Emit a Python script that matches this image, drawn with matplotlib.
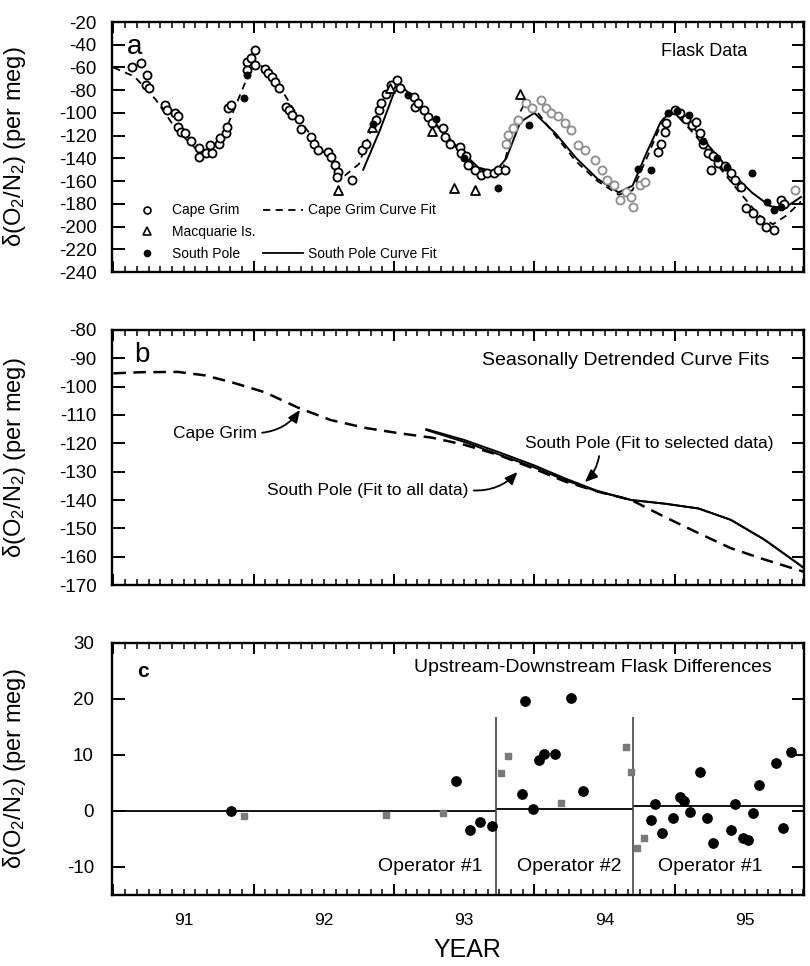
import numpy as np
import matplotlib.pyplot as plt
from matplotlib.lines import Line2D
from matplotlib.ticker import MultipleLocator, FuncFormatter

plt.rcParams['font.family'] = ['Liberation Sans', 'DejaVu Sans']
plt.rcParams['mathtext.fontset'] = 'custom'
plt.rcParams['mathtext.rm'] = 'Liberation Sans'
plt.rcParams['mathtext.it'] = 'Liberation Sans:italic'
plt.rcParams['mathtext.default'] = 'regular'
plt.rcParams['axes.unicode_minus'] = False

XMIN, XMAX = 1990.99, 1995.92

# ---- panel a: flask data (decimal year, per meg)
cg_t = [1991.13, 1991.20, 1991.24, 1991.23, 1991.25, 1991.37, 1991.38, 1991.44, 1991.46, 1991.46,
        1991.48, 1991.51, 1991.55, 1991.61, 1991.61, 1991.66, 1991.70, 1991.69, 1991.75, 1991.76,
        1991.80, 1991.81, 1991.82, 1991.84, 1991.95, 1991.98, 1992.01, 1991.95, 1992.01, 1992.08,
        1992.10, 1992.13, 1992.15, 1992.18, 1992.23, 1992.25, 1992.27, 1992.32, 1992.34, 1992.41,
        1992.43, 1992.46, 1992.53, 1992.55, 1992.58, 1992.60, 1992.59, 1992.70, 1992.77, 1992.80,
        1992.87, 1992.89, 1992.91, 1992.94, 1992.98, 1993.02, 1993.04, 1993.14, 1993.15, 1993.17,
        1993.21, 1993.24, 1993.27, 1993.35, 1993.36, 1993.40, 1993.47, 1993.48, 1993.51, 1993.53,
        1993.58, 1993.62, 1993.66, 1993.71, 1993.74, 1993.79,
        1994.88, 1994.90, 1994.93, 1994.94, 1995.00, 1995.04, 1995.08, 1995.12, 1995.15, 1995.18,
        1995.20, 1995.24, 1995.27, 1995.26, 1995.31, 1995.36, 1995.40, 1995.43, 1995.47, 1995.51,
        1995.56, 1995.61, 1995.65, 1995.71, 1995.76, 1995.78]
cg_v = [-60, -56, -67, -75, -78, -93, -97, -100, -103, -112,
        -117, -118, -125, -131, -139, -135, -135, -128, -127, -122,
        -118, -112, -96, -93, -55, -52, -45, -62, -58, -61,
        -65, -68, -73, -78, -95, -97, -102, -105, -114, -121,
        -127, -133, -134, -139, -146, -152, -156, -159, -133, -127,
        -106, -97, -91, -83, -75, -71, -78, -86, -95, -91,
        -97, -104, -109, -113, -121, -127, -130, -135, -138, -146,
        -150, -155, -153, -153, -150, -150,
        -134, -127, -117, -109, -97, -100, -105, -111, -108, -118,
        -127, -135, -138, -150, -144, -147, -153, -159, -165, -184,
        -188, -194, -200, -203, -177, -180]

# faint (grey) Cape Grim points, late 1993 to late 1994
cgg_t = [1993.80, 1993.81, 1993.85, 1993.88, 1993.94, 1993.98, 1994.05, 1994.08, 1994.12, 1994.17,
         1994.22, 1994.26, 1994.31, 1994.36, 1994.43, 1994.48, 1994.52, 1994.57, 1994.61, 1994.65,
         1994.69, 1994.70, 1994.75, 1994.79, 1995.86]
cgg_v = [-127, -119, -113, -106, -91, -96, -89, -96, -100, -103,
         -109, -115, -128, -133, -141, -150, -159, -163, -177, -170,
         -174, -183, -163, -161, -168]

mq_t = [1992.60, 1992.84, 1992.97, 1993.27, 1993.43, 1993.58, 1993.90]
mq_v = [-168, -112, -78, -116, -166, -168, -83]

sp_t = [1991.93, 1991.95, 1992.85, 1993.10, 1993.30, 1993.50, 1993.74, 1993.96, 1994.74, 1994.83,
        1994.95, 1995.02, 1995.10, 1995.20, 1995.30, 1995.37, 1995.55, 1995.66, 1995.71, 1995.76]
sp_v = [-87, -67, -110, -84, -105, -140, -166, -111, -149, -150,
        -100, -98, -102, -125, -140, -148, -153, -178, -185, -183]

cgfit_t = [1991.00, 1991.15, 1991.30, 1991.45, 1991.60, 1991.70, 1991.80, 1991.90, 1992.00, 1992.10,
           1992.20, 1992.35, 1992.50, 1992.65, 1992.75, 1992.85, 1992.95, 1993.02, 1993.10, 1993.25,
           1993.40, 1993.55, 1993.70, 1993.78, 1993.85, 1993.93, 1994.00, 1994.15, 1994.30, 1994.45,
           1994.60, 1994.70, 1994.80, 1994.92, 1995.00, 1995.15, 1995.30, 1995.45, 1995.60, 1995.70,
           1995.80, 1995.90]
cgfit_v = [-60, -68, -88, -115, -133, -132, -115, -85, -55, -62,
           -80, -110, -135, -155, -145, -110, -80, -74, -82, -104,
           -125, -145, -155, -148, -110, -92, -96, -120, -143, -160,
           -172, -168, -140, -105, -100, -120, -145, -168, -190, -198,
           -190, -178]

spfit_t = [1992.78, 1992.90, 1993.00, 1993.05, 1993.15, 1993.30, 1993.45, 1993.60, 1993.72, 1993.80,
           1993.90, 1994.00, 1994.15, 1994.30, 1994.45, 1994.60, 1994.70, 1994.80, 1994.90, 1994.98,
           1995.10, 1995.25, 1995.40, 1995.55, 1995.68, 1995.78, 1995.90]
spfit_v = [-150, -115, -82, -76, -88, -110, -130, -148, -152, -140,
           -108, -100, -118, -140, -158, -170, -164, -135, -108, -98,
           -108, -130, -152, -170, -182, -184, -174]

# ---- panel b: seasonally detrended fits
cgdt_t = [1991.00, 1991.20, 1991.46, 1991.65, 1991.84, 1992.08, 1992.32, 1992.55, 1992.80, 1993.03,
          1993.27, 1993.50, 1993.74, 1994.00, 1994.22, 1994.45, 1994.69, 1994.93, 1995.17, 1995.40,
          1995.64, 1995.88, 1995.92]
cgdt_v = [-95.3, -94.9, -94.8, -96.0, -98.4, -102.0, -107.5, -111.8, -114.6, -116.4,
          -118.0, -120.5, -124.0, -129.0, -133.5, -137.0, -140.0, -146.0, -151.7, -157.0,
          -161.0, -164.7, -165.3]

spall_t = [1993.23, 1993.50, 1993.74, 1994.00, 1994.22, 1994.45, 1994.69, 1994.93, 1995.17, 1995.40,
           1995.64, 1995.88, 1995.92]
spall_v = [-115.3, -119.5, -123.8, -128.5, -133.0, -137.0, -140.0, -141.3, -143.0, -147.0,
           -154.0, -162.5, -164.0]
spsel_v = [-115.0, -118.8, -123.0, -127.8, -132.4, -136.8, -140.0, -141.3, -143.0, -147.0,
           -154.0, -162.5, -164.0]

# ---- panel c: upstream-downstream differences
dot_t = [1991.84, 1993.44, 1993.54, 1993.61, 1993.70, 1993.93, 1993.91, 1993.99, 1994.03, 1994.07,
         1994.15, 1994.26, 1994.35, 1994.83, 1994.86, 1994.91, 1994.99, 1995.04, 1995.07, 1995.11,
         1995.18, 1995.23, 1995.27, 1995.40, 1995.43, 1995.49, 1995.52, 1995.56, 1995.60, 1995.72,
         1995.77, 1995.83]
dot_v = [0.0, 5.4, -3.4, -1.9, -2.7, 19.7, 3.0, 0.4, 9.1, 10.2,
         10.2, 20.2, 3.6, -1.6, 1.3, -3.9, -1.3, 2.5, 1.8, -0.2,
         7.0, -1.3, -5.7, -3.4, 1.3, -4.8, -5.2, -0.4, 4.6, 8.6,
         -3.0, 10.5]
sq_t = [1991.93, 1992.94, 1993.35, 1993.76, 1993.81, 1994.19, 1994.65, 1994.69, 1994.73, 1994.78]
sq_v = [-0.9, -0.7, -0.4, 6.8, 9.8, 1.4, 11.5, 7.0, -6.6, -4.8]

op_bounds = [1993.73, 1994.70]
seg_start = [XMIN, 1993.73, 1994.70]
seg_end = [1993.73, 1994.70, XMAX]
seg_level = [0.0, 0.3, 0.9]
op_names = ['Operator #1', 'Operator #2', 'Operator #1']
op_x = [1993.26, 1994.25, 1995.25]

fig = plt.figure(figsize=(8.1, 9.66), dpi=100)
ax_a = fig.add_axes([0.1383, 0.7184, 0.854, 0.2588])
ax_b = fig.add_axes([0.1383, 0.3944, 0.854, 0.2640])
ax_c = fig.add_axes([0.1383, 0.0735, 0.854, 0.2609])


def style(ax, ylim, ystep, ypad):
    ax.set_xlim(XMIN, XMAX)
    ax.set_ylim(*ylim)
    ax.xaxis.set_major_locator(MultipleLocator(1))
    ax.xaxis.set_minor_locator(MultipleLocator(1 / 12))
    ax.yaxis.set_major_locator(MultipleLocator(ystep))
    ax.tick_params(axis='x', which='major', direction='in', top=True, bottom=True,
                   length=8, width=1.4, labelbottom=False)
    ax.tick_params(axis='x', which='minor', direction='in', top=True, bottom=True,
                   length=4, width=1.1, labelbottom=False)
    ax.tick_params(axis='y', which='major', direction='in', left=True, right=True,
                   length=9, width=1.4, labelsize=13.5, pad=ypad)
    for s in ax.spines.values():
        s.set_linewidth(1.7)
    ax.set_ylabel('δ(O$_2$/N$_2$) (per meg)', fontsize=17)
    ax.yaxis.set_label_coords(-0.122, 0.5)


# panel a
style(ax_a, (-240, -20), 20, 11)
ax_a.plot(cgfit_t, cgfit_v, color='black', lw=1.3, ls=(0, (4, 3)))
ax_a.plot(spfit_t, spfit_v, color='black', lw=1.4)
ax_a.scatter(cgg_t, cgg_v, s=34, facecolors='white', edgecolors='#8c8c8c', linewidths=1.3, zorder=3)
ax_a.scatter(cg_t, cg_v, s=34, facecolors='white', edgecolors='black', linewidths=1.3, zorder=3)
ax_a.scatter(mq_t, mq_v, s=42, marker='^', facecolors='white', edgecolors='black', linewidths=1.3, zorder=3)
ax_a.scatter(sp_t, sp_v, s=22, color='black', zorder=4)
ax_a.text(0.033, 0.9, 'a', transform=ax_a.transAxes, fontsize=20, ha='center', va='center')
ax_a.text(0.919, 0.884, 'Flask Data', transform=ax_a.transAxes, fontsize=13, ha='right', va='center')

h_cg = Line2D([], [], ls='none', marker='o', ms=5, mfc='white', mec='black', mew=1.2)
h_mq = Line2D([], [], ls='none', marker='^', ms=6, mfc='white', mec='black', mew=1.2)
h_sp = Line2D([], [], ls='none', marker='o', ms=4.5, color='black')
h_cgf = Line2D([], [], color='black', lw=1.3, ls=(0, (4, 3)))
h_blank = Line2D([], [], ls='none')
h_spf = Line2D([], [], color='black', lw=1.3)
ax_a.legend([h_cg, h_mq, h_sp, h_cgf, h_blank, h_spf],
            ['Cape Grim', 'Macquarie Is.', 'South Pole', 'Cape Grim Curve Fit', '', 'South Pole Curve Fit'],
            ncol=2, loc='lower left', bbox_to_anchor=(0.022, 0.045), frameon=False, fontsize=10,
            handlelength=2.9, handletextpad=0.35, columnspacing=0.5, labelspacing=0.55,
            borderpad=0, borderaxespad=0)

# panel b
style(ax_b, (-170, -80), 10, 11)
ax_b.plot(cgdt_t, cgdt_v, color='black', lw=1.8, ls=(0, (5, 3)))
ax_b.plot(spall_t, spall_v, color='black', lw=1.4)
ax_b.plot(spall_t, spsel_v, color='black', lw=1.4)
ax_b.text(0.043, 0.902, 'b', transform=ax_b.transAxes, fontsize=20, ha='center', va='center')
ax_b.text(0.951, 0.882, 'Seasonally Detrended Curve Fits', transform=ax_b.transAxes,
          fontsize=14, ha='right', va='center')
arrow = dict(arrowstyle='-|>,head_length=0.6,head_width=0.25', color='black', lw=1.3,
             shrinkA=2, shrinkB=0)
ax_b.annotate('Cape Grim', xy=(1992.33, -108.2), xytext=(1992.02, -116.4), fontsize=12.5,
              ha='right', va='center',
              arrowprops=dict(arrow, relpos=(1, 0.5), connectionstyle='arc3,rad=0.25'))
ax_b.annotate('South Pole (Fit to all data)', xy=(1993.88, -130.1), xytext=(1992.81, -136.5),
              fontsize=12.5, ha='center', va='center',
              arrowprops=dict(arrow, relpos=(1, 0.5), connectionstyle='arc3,rad=0.25'))
ax_b.annotate('South Pole (Fit to selected data)', xy=(1994.36, -133.7), xytext=(1994.82, -119.9),
              fontsize=12.5, ha='center', va='center',
              arrowprops=dict(arrow, relpos=(0.3, 0), connectionstyle='arc3,rad=-0.2'))

# panel c
style(ax_c, (-15, 30), 10, 13)
ax_c.hlines(seg_level, seg_start, seg_end, color='black', lw=1.3)
ax_c.vlines(op_bounds, -15, 16.7, color='#444444', lw=1.2)
ax_c.scatter(sq_t, sq_v, s=22, marker='s', color='#7a7a7a', zorder=3)
ax_c.scatter(dot_t, dot_v, s=45, color='black', zorder=4)
for name, xx in zip(op_names, op_x):
    ax_c.text(xx, -10, name, fontsize=14, ha='center', va='center')
ax_c.text(0.045, 0.885, 'c', transform=ax_c.transAxes, fontsize=15, fontweight='bold',
          ha='center', va='center')
ax_c.text(0.954, 0.901, 'Upstream-Downstream Flask Differences', transform=ax_c.transAxes,
          fontsize=14, ha='right', va='center')


def year_label(x, pos):
    frac = x - np.floor(x)
    if abs(frac - 0.5) < 1e-3:
        return '%d' % (int(np.floor(x)) % 100)
    return ''


ax_c.xaxis.set_minor_formatter(FuncFormatter(year_label))
ax_c.tick_params(axis='x', which='minor', labelbottom=True, labelsize=12.5, pad=13)

fig.text(0.577, 0.004, 'YEAR', fontsize=18, ha='center', va='bottom')

fig.savefig('out.png', dpi=100)
